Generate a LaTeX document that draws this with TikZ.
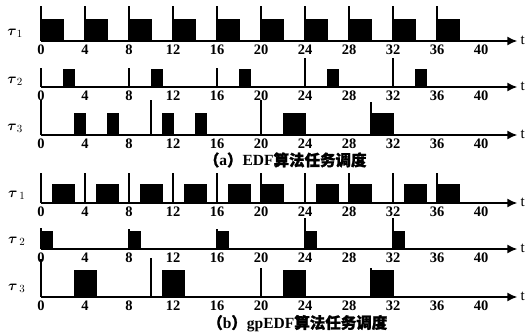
\documentclass[tikz,border=0pt]{standalone}
\usepackage{amsmath,amssymb}
\usepackage{fontspec}
\setmainfont{Liberation Serif}
\newfontfamily\cjk{Noto Sans CJK SC}[FakeBold=1.5]
\usepackage{tikz}
\usetikzlibrary{arrows.meta,positioning,calc}

\begin{document}
\begin{tikzpicture}[
    x=1pt, y=-1pt,
    axis/.style={line width=1.6pt, -{Latex[length=10pt,width=9pt]}},
    release/.style={line width=1.2pt},
    job/.style={fill=black, draw=black, line width=0.5pt},
    tick/.style={font=\fontsize{14.5}{14.5}\selectfont\bfseries, inner sep=0pt},
    tname/.style={font=\fontsize{15}{15}\selectfont, inner sep=0pt},
    task/.style={font=\fontsize{15}{15}\selectfont, inner sep=0pt},
    caption/.style={font=\fontsize{15.5}{15.5}\selectfont\bfseries, inner sep=0pt}
]
\useasboundingbox (0,0) rectangle (532,334);

\begin{scope}[shift={(41,0)}, x=11pt]
    % time axes with their numbers
    \foreach \n/\y in {a1/41,a2/87,a3/135,b1/203,b2/249,b3/297}{
        \coordinate (\n o) at (0,\y);
        \coordinate (\n e) at (43.3,\y);
        \draw[axis] (\n o) -- (\n e);
        \node[tname, anchor=west] (\n t) at ([xshift=3pt,yshift=1pt]\n e) {t};
        \foreach \k in {0,4,...,40}
            \node[tick] (\n n\k) at (\k,\y+9) {\k};
    }

    % task names
    \node[task] (a1l) at (-2.36,33) {$\boldsymbol{\tau}_1$};
    \node[task] (a2l) at (-2.36,81) {$\boldsymbol{\tau}_2$};
    \node[task] (a3l) at (-2.36,128) {$\boldsymbol{\tau}_3$};
    \node[task] (b1l) at (-2.2,195) {$\boldsymbol{\tau}_{\,1}$};
    \node[task] (b2l) at (-2.2,241) {$\boldsymbol{\tau}_{\,2}$};
    \node[task] (b3l) at (-2.2,288) {$\boldsymbol{\tau}_{\,3}$};

    % (a) EDF
    \foreach \s in {0,4,...,36}{
        \draw[release] (\s,41) -- (\s,6);
        \draw[job] (\s,41) rectangle (\s+2,19);
    }
    \foreach \s/\h in {0/68,8/68,16/68,24/58,32/58}
        \draw[release] (\s,87) -- (\s,\h);
    \foreach \s in {2,10,18,26,34}
        \draw[job] (\s,87) rectangle (\s+1,69);
    \foreach \s/\h in {0/100,10/100,20/100,30/102}
        \draw[release] (\s,135) -- (\s,\h);
    \foreach \s/\c in {3/1,6/1,11/1,14/1,22/2,30/2}
        \draw[job] (\s,135) rectangle (\s+\c,113);
    \node[caption] (capa) at (22.2,160)
        {{\cjk （}a{\cjk ）}EDF{\cjk 算法任务调度}};

    % (b) gpEDF
    \foreach \s in {0,4,...,36}
        \draw[release] (\s,203) -- (\s,173);
    \foreach \s in {1,5,9,13,17,20,25,28,33,36}
        \draw[job] (\s,203) rectangle (\s+2,184);
    \foreach \s/\h in {0/228,8/229,16/229,24/218,32/218}{
        \draw[release] (\s,249) -- (\s,\h);
        \draw[job] (\s,249) rectangle (\s+1,231);
    }
    \foreach \s/\h in {0/259,10/258,20/268,30/268}
        \draw[release] (\s,297) -- (\s,\h);
    \foreach \s in {3,11,22,30}
        \draw[job] (\s,297) rectangle (\s+2,270);
    \node[caption] (capb) at (23.3,323.5)
        {{\cjk （}b{\cjk ）}gpEDF{\cjk 算法任务调度}};
\end{scope}
\end{tikzpicture}
\end{document}
